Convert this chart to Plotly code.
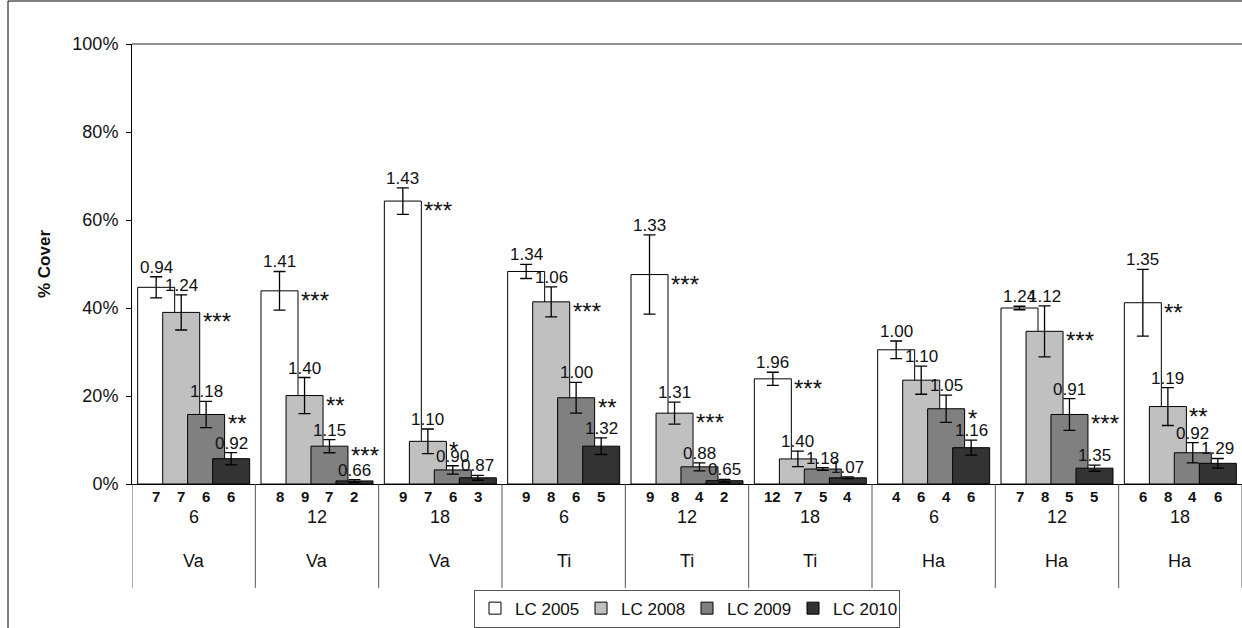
import plotly.graph_objects as go

# ---------------- data ----------------
sites = ["Va", "Va", "Va", "Ti", "Ti", "Ti", "Ha", "Ha", "Ha"]
times = ["6", "12", "18", "6", "12", "18", "6", "12", "18"]
series_names = ["LC 2005", "LC 2008", "LC 2009", "LC 2010"]

cover_2005 = [44.7, 43.9, 64.3, 48.3, 47.6, 23.9, 30.5, 40.0, 41.2]
cover_2008 = [39.0, 20.1, 9.7, 41.4, 16.1, 5.7, 23.6, 34.7, 17.6]
cover_2009 = [15.8, 8.6, 3.2, 19.6, 3.9, 3.4, 17.1, 15.8, 7.1]
cover_2010 = [5.75, 0.7, 1.4, 8.6, 0.75, 1.4, 8.25, 3.6, 4.7]

err_2005 = [2.4, 4.4, 3.0, 1.6, 9.0, 1.5, 2.0, 0.4, 7.6]
err_2008 = [4.0, 4.1, 2.8, 3.4, 2.5, 1.75, 3.2, 5.8, 4.3]
err_2009 = [3.0, 1.5, 0.95, 3.5, 0.9, 0.3, 3.1, 3.6, 2.3]
err_2010 = [1.4, 0.3, 0.55, 1.9, 0.3, 0.2, 1.7, 0.7, 1.1]

lab_2005 = ["0.94", "1.41", "1.43", "1.34", "1.33", "1.96", "1.00", "1.24", "1.35"]
lab_2008 = ["1.24", "1.40", "1.10", "1.06", "1.31", "1.40", "1.10", "1.12", "1.19"]
lab_2009 = ["1.18", "1.15", "0.90", "1.00", "0.88", "1.18", "1.05", "0.91", "0.92"]
lab_2010 = ["0.92", "0.66", "0.87", "1.32", "0.65", "1.07", "1.16", "1.35", "1.29"]

sig_2005 = ["", "***", "***", "", "***", "***", "", "", "**"]
sig_2008 = ["***", "**", "*", "***", "***", "", "", "***", "**"]
sig_2009 = ["**", "***", "", "**", "", "", "*", "***", ""]
sig_2010 = ["", "", "", "", "", "", "", "", ""]

n_2005 = [7, 8, 9, 9, 9, 12, 4, 7, 6]
n_2008 = [7, 9, 7, 8, 8, 7, 6, 8, 8]
n_2009 = [6, 7, 6, 6, 4, 5, 4, 5, 4]
n_2010 = [6, 2, 3, 5, 2, 4, 6, 5, 6]

covers = [cover_2005, cover_2008, cover_2009, cover_2010]
errs = [err_2005, err_2008, err_2009, err_2010]
labs = [lab_2005, lab_2008, lab_2009, lab_2010]
sigs = [sig_2005, sig_2008, sig_2009, sig_2010]
ns = [n_2005, n_2008, n_2009, n_2010]

# ---------------- style ----------------
colors = ["#FFFFFF", "#C0C0C0", "#808080", "#333333"]
offsets = [-0.304, -0.101, 0.101, 0.304]
bar_w = 0.30
FONT = "Arial, Liberation Sans, sans-serif"
TXT = "#111"

fig = go.Figure()
annotations = []
shapes = []

for s in range(4):
    xs = [g + 0.5 + offsets[s] for g in range(len(sites))]
    fig.add_trace(go.Bar(
        x=xs, y=covers[s], width=bar_w, name=series_names[s],
        marker=dict(color=colors[s], line=dict(color="black", width=1)),
        error_y=dict(type="data", array=errs[s], color="black",
                     thickness=1.3, width=6),
    ))
    for g in range(len(sites)):
        top = covers[s][g] + errs[s][g]
        annotations.append(dict(
            x=xs[g], y=top, xref="x", yref="y", text=labs[s][g],
            showarrow=False, xanchor="center", yanchor="bottom", yshift=-2,
            font=dict(family=FONT, size=17, color=TXT)))
        if sigs[s][g]:
            annotations.append(dict(
                x=xs[g] + bar_w / 2, y=covers[s][g], xref="x", yref="y",
                text=sigs[s][g], showarrow=False, xanchor="left",
                yanchor="top", xshift=1, yshift=6,
                font=dict(family=FONT, size=24, color=TXT)))
        annotations.append(dict(
            x=xs[g], y=0, xref="x", yref="paper", text="<b>%d</b>" % ns[s][g],
            showarrow=False, xanchor="center", yanchor="top", yshift=-2,
            font=dict(family=FONT, size=15, color=TXT)))

for g in range(len(sites)):
    annotations.append(dict(
        x=g + 0.5, y=-0.075, xref="x", yref="paper", text=times[g],
        showarrow=False, xanchor="center", yanchor="middle",
        font=dict(family=FONT, size=18, color=TXT)))
    annotations.append(dict(
        x=g + 0.5, y=-0.175, xref="x", yref="paper", text=sites[g],
        showarrow=False, xanchor="center", yanchor="middle",
        font=dict(family=FONT, size=18, color=TXT)))

for b in range(len(sites) + 1):
    shapes.append(dict(type="line", xref="x", yref="paper", x0=b, x1=b,
                       y0=0, y1=-0.236, line=dict(color="#555", width=1)))

# plot area top border
shapes.append(dict(type="line", xref="paper", yref="paper", x0=0, x1=1,
                   y0=1, y1=1, line=dict(color="#909090", width=2)))
# outer chart frame (left and top)
shapes.append(dict(type="line", xref="paper", yref="paper",
                   x0=(8 - 132) / 1110, x1=(8 - 132) / 1110,
                   y0=(484 - 628) / 440, y1=(484 - 1) / 440,
                   line=dict(color="black", width=1)))
shapes.append(dict(type="line", xref="paper", yref="paper",
                   x0=(8 - 132) / 1110, x1=1,
                   y0=(484 - 1) / 440, y1=(484 - 1) / 440,
                   line=dict(color="black", width=1)))

fig.update_layout(
    width=1242, height=628,
    margin=dict(l=132, r=0, t=44, b=144, autoexpand=False),
    paper_bgcolor="white", plot_bgcolor="white",
    barmode="overlay",
    showlegend=True,
    legend=dict(orientation="h", x=0.5, xanchor="center", y=-0.24,
                yanchor="top", font=dict(family=FONT, size=17, color=TXT),
                bordercolor="#555", borderwidth=1, itemwidth=30,
                entrywidth=61, traceorder="normal"),
    xaxis=dict(range=[0, 9], showticklabels=False, showgrid=False,
               zeroline=False, showline=True, linecolor="black", linewidth=1,
               ticks=""),
    yaxis=dict(range=[0, 100], dtick=20, ticksuffix="%", showgrid=False,
               zeroline=False, showline=True, linecolor="black", linewidth=1,
               ticks="outside", ticklen=5, tickcolor="black",
               ticklabelstandoff=4,
               tickfont=dict(family=FONT, size=18, color=TXT),
               title=dict(text="<b>% Cover</b>", standoff=17,
                          font=dict(family=FONT, size=17, color=TXT))),
    annotations=annotations,
    shapes=shapes,
    font=dict(family=FONT),
)

fig.write_html("out.html")
